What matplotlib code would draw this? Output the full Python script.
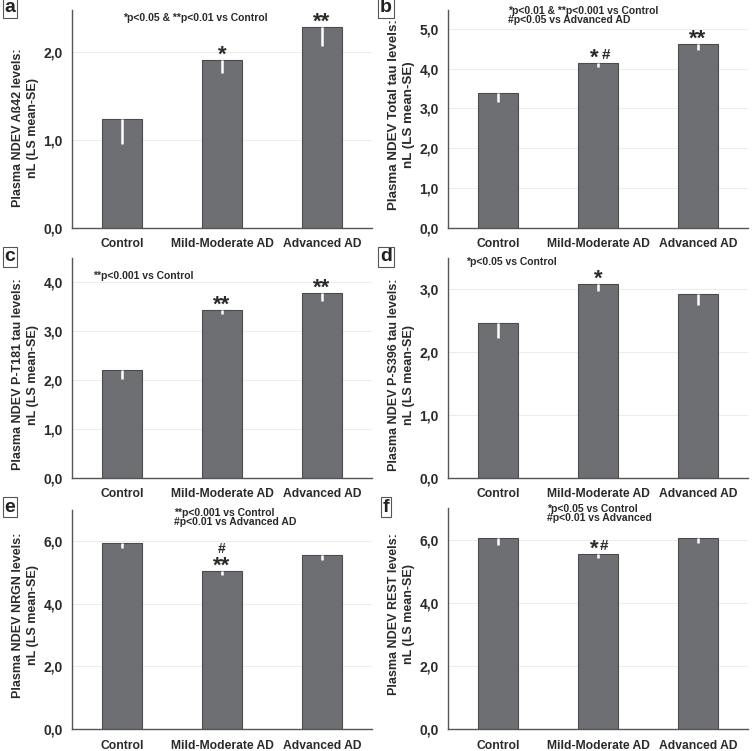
import matplotlib
matplotlib.use("Agg")
import matplotlib.pyplot as plt
from matplotlib.ticker import FuncFormatter

plt.rcParams['font.family'] = ['Liberation Sans', 'DejaVu Sans']
plt.rcParams['font.weight'] = 'bold'

groups = ['Control', 'Mild-Moderate AD', 'Advanced AD']

# means and (mean - SE)
abeta_mean = [1.24, 1.91, 2.29]
abeta_low = [0.95, 1.76, 2.07]
ttau_mean = [3.39, 4.13, 4.62]
ttau_low = [3.17, 4.03, 4.46]
pt181_mean = [2.21, 3.44, 3.78]
pt181_low = [2.02, 3.35, 3.63]
ps396_mean = [2.46, 3.08, 2.93]
ps396_low = [2.23, 2.97, 2.75]
nrgn_mean = [5.95, 5.04, 5.56]
nrgn_low = [5.77, 4.93, 5.41]
rest_mean = [6.04, 5.53, 6.04]
rest_low = [5.83, 5.43, 5.88]

W, H = 753, 751
fig = plt.figure(figsize=(W / 100, H / 100), dpi=100)
fig.patch.set_facecolor('white')

BAR = '#6e6f73'
EDGE = '#4a4b4e'
TXT = '#2a2a2a'


def px_axes(left, top, right, bottom):
    return fig.add_axes([left / W, 1 - bottom / H, (right - left) / W, (bottom - top) / H])


def mark(ax, i, y, s, dx=0, dy=-4, size=16):
    ax.annotate(s, (i, y), xytext=(dx, dy), textcoords='offset points',
                ha='center', va='bottom', fontsize=size, fontweight='bold', color=TXT)


def panel(ax, means, lows, ylim, ticks, ylabel, stars, note, note_xy, note_ha='center',
          label_y=0.5, label_size=9, xpad=7):
    x = list(range(len(groups)))
    ax.bar(x, means, width=0.4, color=BAR, edgecolor=EDGE, linewidth=0.8, zorder=2)
    # white error lines (mean - SE) drawn inside the bars
    ax.vlines(x, lows, means, color='white', linewidth=1.8, zorder=3)
    ax.set_xlim(-0.5, 2.5)
    ax.set_ylim(0, ylim)
    ax.set_yticks(ticks)
    ax.yaxis.set_major_formatter(FuncFormatter(lambda v, p: f'{v:.1f}'.replace('.', ',')))
    ax.set_xticks(x)
    ax.set_xticklabels(groups)
    ax.tick_params(axis='both', length=0, colors=TXT)
    ax.tick_params(axis='x', pad=xpad, labelsize=8.7)
    ax.tick_params(axis='y', pad=6.5, labelsize=10)
    for lab in ax.get_xticklabels() + ax.get_yticklabels():
        lab.set_fontweight('bold')
    ax.grid(axis='y', color='#ececec', linewidth=0.7, zorder=0)
    ax.set_axisbelow(True)
    for s in ['top', 'right']:
        ax.spines[s].set_visible(False)
    for s in ['left', 'bottom']:
        ax.spines[s].set_color('#555555')
        ax.spines[s].set_linewidth(1.0)
    ax.set_ylabel(ylabel, fontsize=label_size, fontweight='bold', color=TXT,
                  linespacing=1.3, va='center')
    ax.yaxis.set_label_coords(-0.155, label_y)
    for i, s in stars.items():
        mark(ax, i, means[i], s)
    ax.text(note_xy[0], note_xy[1], note, transform=ax.transAxes, ha=note_ha, va='center',
            fontsize=7.5, fontweight='bold', color=TXT, linespacing=0.85)


axa = px_axes(72, 10, 372, 228)
panel(axa, abeta_mean, abeta_low, 2.48, [0, 1, 2],
      'Plasma NDEV Aß42 levels:\nnL (LS mean-SE)',
      {1: '*', 2: '**'}, '*p<0.05 & **p<0.01 vs Control', (0.41, 0.963), label_y=0.46)

axb = px_axes(448, 10, 748, 228)
panel(axb, ttau_mean, ttau_low, 5.47, [0, 1, 2, 3, 4, 5],
      'Plasma NDEV Total tau levels:\nnL (LS mean-SE)',
      {2: '**'}, '*p<0.01 & **p<0.001 vs Control\n#p<0.05 vs Advanced AD',
      (0.2, 0.975), note_ha='left', label_y=0.52, label_size=9.6)
mark(axb, 1, ttau_mean[1], '*', dx=-3)
mark(axb, 1, ttau_mean[1], '#', dx=6, dy=1, size=11)

axc = px_axes(72, 258, 372, 478)
panel(axc, pt181_mean, pt181_low, 4.5, [0, 1, 2, 3, 4],
      'Plasma NDEV P-T181 tau levels:\nnL (LS mean-SE)',
      {1: '**', 2: '**'}, '**p<0.001 vs Control', (0.07, 0.92), note_ha='left',
      label_y=0.47)

axd = px_axes(448, 258, 748, 478)
panel(axd, ps396_mean, ps396_low, 3.5, [0, 1, 2, 3],
      'Plasma NDEV P-S396 tau levels:\nnL (LS mean-SE)',
      {1: '*'}, '*p<0.05 vs Control', (0.06, 0.98), note_ha='left', label_y=0.47)

axe = px_axes(72, 510, 372, 729)
panel(axe, nrgn_mean, nrgn_low, 7.0, [0, 2, 4, 6],
      'Plasma NDEV NRGN levels:\nnL (LS mean-SE)',
      {1: '**'}, '**p<0.001 vs Control\n#p<0.01 vs Advanced AD', (0.34, 0.965),
      note_ha='left', label_y=0.52, xpad=8)
mark(axe, 1, nrgn_mean[1], '#', dy=11, size=10)

axf = px_axes(448, 508, 748, 729)
panel(axf, rest_mean, rest_low, 7.0, [0, 2, 4, 6],
      'Plasma NDEV REST levels:\nnL (LS mean-SE)',
      {}, '*p<0.05 vs Control\n#p<0.01 vs Advanced', (0.33, 0.975), note_ha='left',
      label_y=0.52, xpad=8)
mark(axf, 1, rest_mean[1], '*', dx=-3)
mark(axf, 1, rest_mean[1], '#', dx=4.5, dy=1, size=11)

# boxed panel letters
for letter, xp, yp in [('a', 10, 8), ('b', 386, 8), ('c', 10, 257), ('d', 386, 257),
                       ('e', 10, 507), ('f', 386, 507)]:
    fig.text(xp / W, 1 - yp / H, letter, ha='center', va='center', fontsize=14,
             fontweight='bold', color='#222222',
             bbox=dict(boxstyle='square,pad=0.1', fc='white', ec='#555555', lw=0.8))

fig.savefig('out.png', dpi=100)
